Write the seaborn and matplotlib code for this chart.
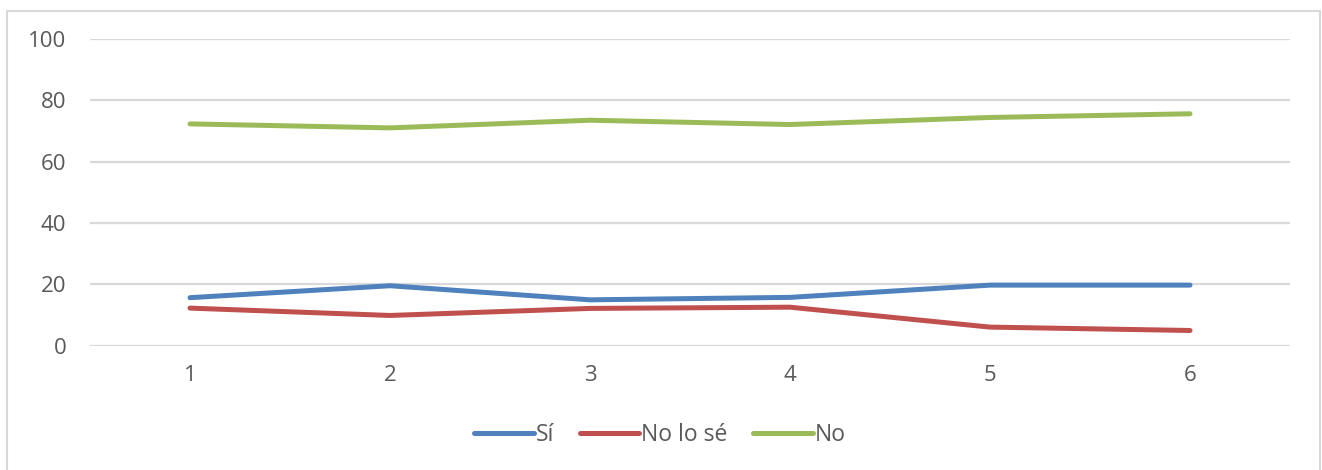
import matplotlib.pyplot as plt
import matplotlib.patches as mpatches
import pandas as pd
import seaborn as sns

periods = [1, 2, 3, 4, 5, 6]
si = [15.6, 19.5, 14.9, 15.7, 19.7, 19.7]
no_lo_se = [12.2, 9.8, 12.1, 12.5, 6.0, 4.9]
no = [72.3, 71.0, 73.5, 72.1, 74.4, 75.6]
series = ["Sí", "No lo sé", "No"]
colors = ["#4f81bd", "#c0504d", "#9bbb59"]

df = pd.DataFrame({
    "x": periods * 3,
    "value": si + no_lo_se + no,
    "serie": [s for s in series for _ in periods],
})

sns.set_theme(style="white")
plt.rcParams["font.family"] = ["Open Sans", "DejaVu Sans"]
grey = "#595959"

fig = plt.figure(figsize=(13.22, 4.70), dpi=100)
ax = fig.add_axes([90 / 1322, 1 - 345.5 / 470, 1200 / 1322, 306.5 / 470])

sns.lineplot(data=df, x="x", y="value", hue="serie", palette=colors,
             hue_order=series, lw=3.6, ax=ax, legend=False,
             solid_capstyle="round")

ax.set_xlim(0.5, 6.5)
ax.set_ylim(0, 100)
ax.set_yticks([0, 20, 40, 60, 80, 100])
ax.set_xticks(periods)
ax.grid(axis="y", color="#d9d9d9", lw=1.6)
ax.set_axisbelow(True)
for s in ax.spines.values():
    s.set_visible(False)
ax.tick_params(axis="both", length=0, labelsize=16, colors=grey)
ax.tick_params(axis="y", pad=17)
ax.tick_params(axis="x", pad=14)
ax.set_xlabel("")
ax.set_ylabel("")

handles = [plt.Line2D([], [], color=c, lw=3.6, solid_capstyle="round") for c in colors]
fig.legend(handles, series, loc="center", bbox_to_anchor=(660 / 1322, 1 - 435 / 470),
           ncol=3, frameon=False, fontsize=16.5, handlelength=2.6, handletextpad=0.1,
           columnspacing=1.1, labelcolor=grey)

# outer chart frame
fig.add_artist(mpatches.Rectangle((7 / 1322, -0.1), 1313 / 1322, 1.1 - 11 / 470,
                                  transform=fig.transFigure, fill=False,
                                  edgecolor="#d9d9d9", lw=1.5))

fig.savefig("out.png", dpi=100)
